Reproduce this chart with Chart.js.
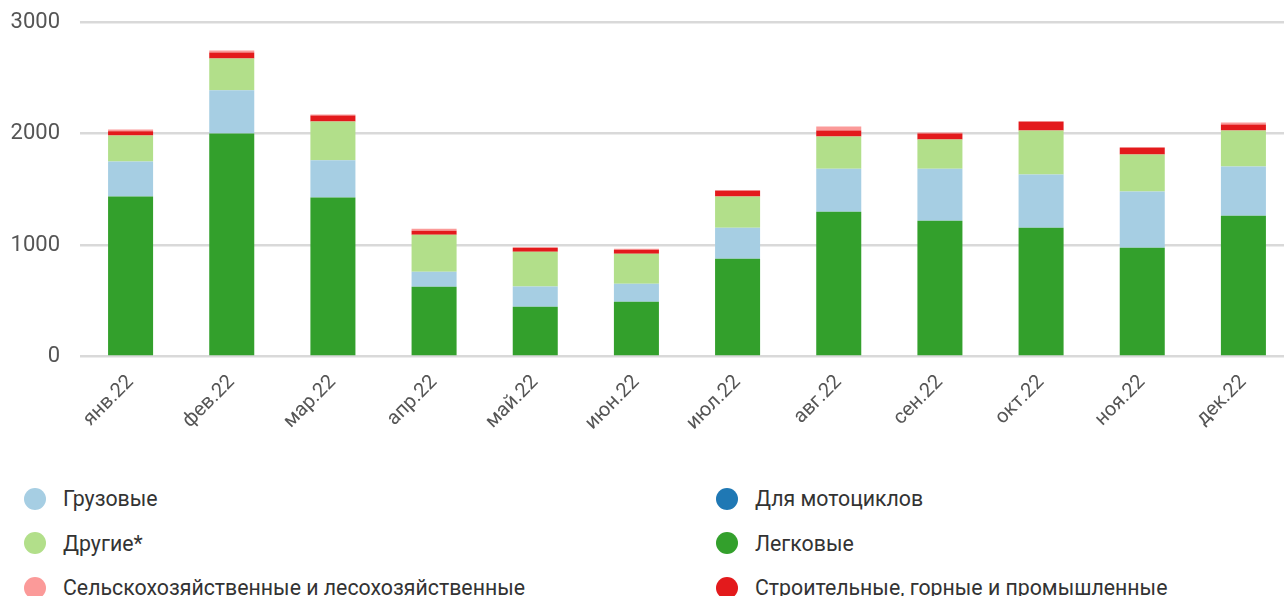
<!DOCTYPE html>
<html>
<head>
<meta charset="utf-8">
<script src="https://cdn.jsdelivr.net/npm/chart.js@4"></script>
<style>
    body { margin: 0; background: #fff; overflow: hidden; font-family: Roboto, sans-serif; }
    #wrap { position: relative; width: 1294px; height: 452px; margin-top: -11px; }
    #legend { position: absolute; left: 0; top: 475px; width: 1284px; }
    .item { position: absolute; display: flex; align-items: center; font-size: 21.3px; color: #333; white-space: nowrap; }
    .dot { width: 22px; height: 22px; border-radius: 50%; margin-right: 17px; }
</style>
</head>
<body>
<div id="wrap"><canvas id="chart"></canvas></div>
<div id="legend"></div>
<script>
const months = ['янв.22', 'фев.22', 'мар.22', 'апр.22', 'май.22', 'июн.22', 'июл.22', 'авг.22', 'сен.22', 'окт.22', 'ноя.22', 'дек.22'];
const legkovye = [1435, 2001, 1426, 626, 447, 491, 878, 1300, 1219, 1156, 977, 1264];
const gruzovye = [314, 389, 335, 135, 182, 162, 278, 386, 467, 477, 503, 441];
const drugie = [234, 285, 348, 332, 312, 270, 279, 288, 261, 395, 332, 323];
const moto = [0, 0, 0, 0, 0, 0, 0, 0, 0, 0, 0, 0];
const stroitelnye = [39, 54, 54, 36, 36, 36, 54, 54, 54, 81, 63, 54];
const selhoz = [15, 18, 9, 18, 3, 9, 0, 36, 9, 0, 0, 18];
const yTicks = [0, 1000, 2000, 3000];

// порядок в легенде (по алфавиту), отличается от порядка в стеке
const legendOrder = ['Грузовые', 'Для мотоциклов', 'Другие*', 'Легковые', 'Сельскохозяйственные и лесохозяйственные', 'Строительные, горные и промышленные'];

var ctx = document.getElementById('chart').getContext('2d');
var myChart = new Chart(ctx, {
    type: 'bar',
    data: {
        labels: months,
        datasets: [{
            label: 'Легковые',
            data: legkovye,
            backgroundColor: '#33a02c'
        }, {
            label: 'Грузовые',
            data: gruzovye,
            backgroundColor: '#a6cee3'
        }, {
            label: 'Другие*',
            data: drugie,
            backgroundColor: '#b2df8a'
        }, {
            label: 'Для мотоциклов',
            data: moto,
            backgroundColor: '#1f78b4'
        }, {
            label: 'Строительные, горные и промышленные',
            data: stroitelnye,
            backgroundColor: '#e31a1c'
        }, {
            label: 'Сельскохозяйственные и лесохозяйственные',
            data: selhoz,
            backgroundColor: '#fb9a99'
        }]
    },
    options: {
        responsive: true,
        maintainAspectRatio: false,
        animation: false,
        barPercentage: 0.5,
        categoryPercentage: 0.89,
        layout: { padding: { top: 0, left: 0, right: 0, bottom: 0 } },
        plugins: {
            legend: { display: false },
            tooltip: { enabled: false }
        },
        scales: {
            x: {
                stacked: true,
                grid: { display: false },
                border: { display: false },
                ticks: {
                    color: '#555',
                    font: { family: 'Roboto', size: 20 },
                    minRotation: 45,
                    maxRotation: 45,
                    padding: 6
                }
            },
            y: {
                stacked: true,
                min: 0,
                max: 3000,
                afterBuildTicks: axis => { axis.ticks = yTicks.map(v => ({ value: v })); },
                afterFit: axis => { axis.width = 80; },
                grid: { color: '#d9d9d9', lineWidth: 2.5, drawTicks: false },
                border: { display: false },
                ticks: {
                    color: '#555',
                    font: { family: 'Roboto', size: 22 },
                    padding: 20,
                    callback: v => String(v)
                }
            }
        }
    }
});

// легенда в две колонки
const legendEl = document.getElementById('legend');
legendOrder.forEach((name, i) => {
    const ds = myChart.data.datasets.find(d => d.label === name);
    const item = document.createElement('div');
    item.className = 'item';
    item.style.left = (i % 2 === 0 ? 24 : 716) + 'px';
    item.style.top = (Math.floor(i / 2) * 44.5 + 11) + 'px';
    item.innerHTML = '<span class="dot" style="background:' + ds.backgroundColor + '"></span><span>' + name + '</span>';
    legendEl.appendChild(item);
});
</script>
</body>
</html>
